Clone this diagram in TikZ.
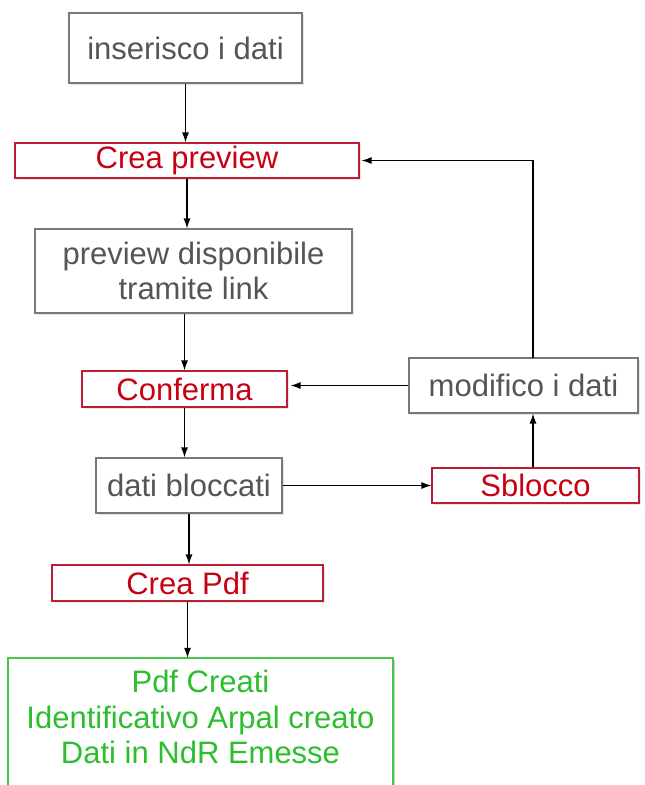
\documentclass[tikz,border=0pt]{standalone}
\usepackage{fontspec}
\setmainfont{Liberation Sans}
\usetikzlibrary{positioning,arrows.meta,shadows}

\definecolor{boxgray}{RGB}{120,120,120}
\definecolor{txtgray}{RGB}{85,85,85}
\definecolor{boxred}{RGB}{185,30,50}
\definecolor{txtred}{RGB}{200,0,20}
\definecolor{boxgreen}{RGB}{70,200,70}
\definecolor{txtgreen}{RGB}{45,190,45}

\tikzset{
  flowtext/.style={inner sep=0pt, align=center, font=\fontsize{31}{35.5}\selectfont},
  flowbox/.style={flowtext, draw, line width=1.1pt, fill=white,
    drop shadow={opacity=0.2, shadow xshift=1.5pt, shadow yshift=-1.5pt}},
  graybox/.style={flowbox, draw=boxgray, text=txtgray},
  redbox/.style={flowbox, draw=boxred, text=txtred},
  greentext/.style={flowtext, text=txtgreen},
  arr/.style={-{Latex[length=10pt,width=7pt]}, line width=1.2pt, black}
}

\begin{document}
\begin{tikzpicture}[x=1pt,y=-1pt]

  \clip (0,0) rectangle (645,785);
  \fill[white] (0,0) rectangle (645,785);

  % main column
  \node[graybox, minimum width=233pt, minimum height=70pt] (ins) at (185.5,48) {inserisco i dati};
  \node[redbox, minimum width=344pt, minimum height=35pt] (cprev) at (187,160.5) {Crea preview};
  \node[graybox, minimum width=317pt, minimum height=84pt] (prev) at (193.5,271) {preview disponibile\\tramite link};
  \node[redbox, minimum width=271pt, minimum height=36pt] (cpdf) at (187.5,583) {Crea Pdf};
  \node[redbox, minimum width=205pt, minimum height=36pt] (conf) at (184.5,389) {Conferma};
  \node[graybox, minimum width=186pt, minimum height=55pt] (bloc) at (189,485.5) {dati bloccati};
  % the green box runs past the bottom edge
  \fill[black, opacity=0.2] (9.5,659.5) rectangle (394.5,800);
  \draw[boxgreen, line width=1.1pt, fill=white] (8,658) rectangle (393,800);
  \node[greentext, minimum width=385pt, minimum height=118pt] (pdf) at (200.5,717) {Pdf Creati\\Identificativo Arpal creato\\Dati in NdR Emesse};

  % right column
  \node[redbox, minimum width=207pt, minimum height=35pt] (sbl) at (535.5,485.5) {Sblocco};
  \node[graybox, minimum width=229pt, minimum height=55pt] (mod) at (523.5,385.5) {modifico i dati};
  \coordinate (up) at (533,358);

  % arrows
  \draw[arr] (ins.south) -- (ins.south |- cprev.north);
  \draw[arr] (cprev.south) -- (cprev.south |- prev.north);
  \draw[arr] (conf.north |- prev.south) -- (conf.north);
  \draw[arr] (conf.south) -- (conf.south |- bloc.north);
  \draw[arr] (bloc.south) -- (bloc.south |- cpdf.north);
  \draw[arr] (cpdf.south) -- (cpdf.south |- pdf.north);
  \draw[arr] (bloc.east) -- (sbl.west);
  \draw[arr] (up |- sbl.north) -- (up |- mod.south);
  \draw[arr] (mod.west) -- ([xshift=3pt]mod.west -| conf.east);
  \draw[arr] (up) |- ([xshift=2pt]cprev.east);

\end{tikzpicture}
\end{document}
